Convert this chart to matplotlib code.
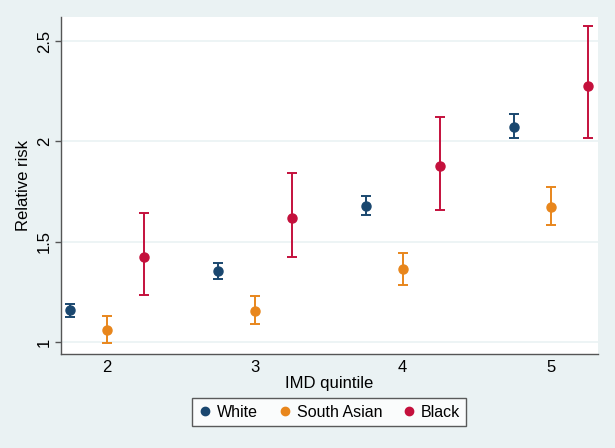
import matplotlib
matplotlib.use("Agg")
import matplotlib.pyplot as plt
from matplotlib.lines import Line2D
import numpy as np

plt.rcParams['font.family'] = ['Liberation Sans', 'DejaVu Sans']

quintiles = [2, 3, 4, 5]
groups = ["White", "South Asian", "Black"]
offsets = [-0.25, 0.0, 0.25]
colors = ["#1a476f", "#e8861c", "#c4103c"]

rr = {
    "White":       [1.157, 1.356, 1.679, 2.073],
    "South Asian": [1.058, 1.154, 1.363, 1.674],
    "Black":       [1.424, 1.616, 1.879, 2.277],
}
lower = {
    "White":       [1.124, 1.316, 1.631, 2.016],
    "South Asian": [0.993, 1.091, 1.286, 1.584],
    "Black":       [1.233, 1.424, 1.659, 2.016],
}
upper = {
    "White":       [1.190, 1.394, 1.728, 2.138],
    "South Asian": [1.129, 1.227, 1.445, 1.771],
    "Black":       [1.644, 1.840, 2.124, 2.573],
}
yticks = [1, 1.5, 2, 2.5]
ytick_labels = ["1", "1.5", "2", "2.5"]

bg = "#eaf2f3"
fig = plt.figure(figsize=(6.15, 4.48), dpi=100, facecolor=bg)
ax = fig.add_axes([0.0992, 0.2098, 0.8732, 0.7522])
ax.set_facecolor("white")

for g, off, c in zip(groups, offsets, colors):
    x = np.array(quintiles) + off
    y = np.array(rr[g])
    lo = y - np.array(lower[g])
    hi = np.array(upper[g]) - y
    ax.errorbar(x, y, yerr=[lo, hi], fmt='none', ecolor=c, elinewidth=1.4,
                capsize=3.5, capthick=1.4, zorder=2)
    ax.plot(x, y, 'o', color=c, markersize=6.5, zorder=3, linestyle='none')

ax.set_xlim(1.69, 5.32)
ax.set_ylim(0.94, 2.62)
ax.set_xticks(quintiles)
ax.set_xticklabels([str(q) for q in quintiles])
ax.set_yticks(yticks)
ax.set_yticklabels(ytick_labels, rotation=90, va='center')
ax.grid(axis='y', color=bg, linewidth=1.2, zorder=0)
ax.set_axisbelow(True)

for s in ['top', 'right']:
    ax.spines[s].set_visible(False)
for s in ['left', 'bottom']:
    ax.spines[s].set_color('#555555')
    ax.spines[s].set_linewidth(1.0)

ax.tick_params(axis='both', colors='#555555', labelcolor='black', labelsize=12,
               width=1.0)
ax.tick_params(axis='x', length=0, pad=4)
ax.tick_params(axis='y', length=4.5, pad=2)

ax.set_xlabel("IMD quintile", fontsize=12, labelpad=1)
ax.set_ylabel("Relative risk", fontsize=12, labelpad=4)

handles = [Line2D([0], [0], marker='o', color=c, linestyle='none', markersize=6)
           for c in colors]
leg = fig.legend(handles, groups, loc='center', bbox_to_anchor=(0.535, 0.080),
                 ncol=3, frameon=True, fontsize=11.5, handletextpad=0.3,
                 columnspacing=1.2, borderpad=0.4, handlelength=0.9,
                 fancybox=False)
leg.get_frame().set_edgecolor('#333333')
leg.get_frame().set_linewidth(1.0)
leg.get_frame().set_facecolor('white')

fig.savefig("out.png", dpi=100, facecolor=bg)
